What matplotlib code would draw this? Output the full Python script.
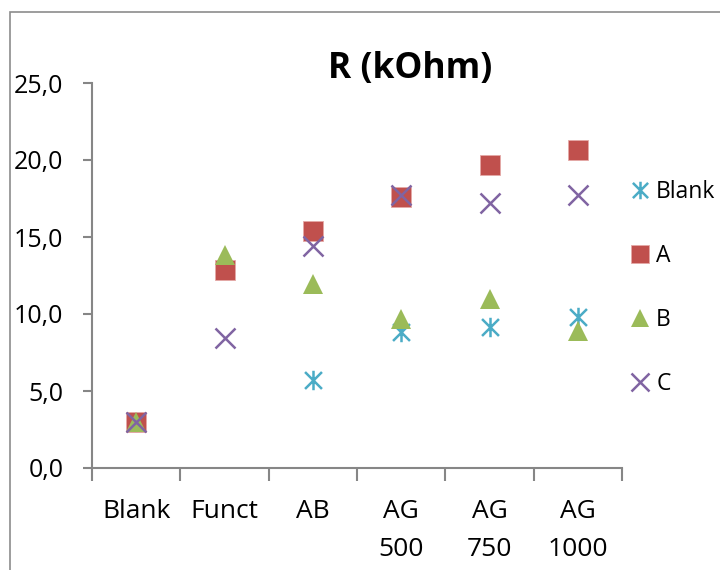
import matplotlib
matplotlib.use("Agg")
import matplotlib.pyplot as plt
import numpy as np
from matplotlib.path import Path
from matplotlib.patches import Rectangle

categories = ["Blank", "Funct", "AB", "AG\n500", "AG\n750", "AG\n1000"]
blank = [3.0, np.nan, 5.7, 8.85, 9.15, 9.8]
a_vals = [3.0, 12.85, 15.4, 17.6, 19.7, 20.65]
b_vals = [3.0, 13.8, 11.95, 9.7, 11.0, 8.9]
c_vals = [3.0, 8.45, 14.4, 17.7, 17.2, 17.7]

plt.rcParams['font.family'] = ['Open Sans', 'DejaVu Sans']

# excel style asterisk: an x with a vertical bar through it
asterisk = Path([(-1, -1), (1, 1), (-1, 1), (1, -1), (0, -1.15), (0, 1.15)],
                [Path.MOVETO, Path.LINETO, Path.MOVETO, Path.LINETO, Path.MOVETO, Path.LINETO])

fig = plt.figure(figsize=(7.2, 5.7), dpi=100)
ax = fig.add_axes([92/720, 102/570, 530/720, 385/570])

# chart area border (cut off at right and bottom)
fig.patches.append(Rectangle((10/720, -0.1), 1.2, 1.1 - 12/570, transform=fig.transFigure,
                             fill=False, edgecolor='#8c8c8c', linewidth=1.2))

x = np.arange(len(categories))
ax.plot(x, blank, linestyle='none', marker=asterisk, markersize=14, markeredgewidth=1.8,
        color='#4BACC6', label='Blank')
ax.plot(x, a_vals, linestyle='none', marker='s', markersize=14, color='#C0504D',
        markeredgecolor='#e4a9a7', markeredgewidth=0.6, label='A')
ax.plot(x, b_vals, linestyle='none', marker='^', markersize=15, color='#9BBB59',
        markeredgewidth=0, label='B')
ax.plot(x, c_vals, linestyle='none', marker='x', markersize=14, markeredgewidth=1.8,
        color='#8064A2', label='C')

ax.set_xlim(-0.5, len(categories) - 0.5)
ax.set_ylim(0, 25)
ax.set_yticks(np.arange(0, 26, 5))
ax.set_yticklabels([f"{v:.1f}".replace('.', ',') for v in np.arange(0, 26, 5)])
ax.set_xticks(x)
ax.set_xticklabels(categories, linespacing=1.72, va='top')
ax.set_xticks(np.arange(-0.5, len(categories), 1), minor=True)

for s in ['top', 'right']:
    ax.spines[s].set_visible(False)
for s in ['left', 'bottom']:
    ax.spines[s].set_color('#868686')
    ax.spines[s].set_linewidth(1.5)

ax.tick_params(axis='y', direction='out', length=6.5, width=1.5, color='#868686',
               labelsize=18, pad=14)
ax.tick_params(axis='x', which='major', length=0, labelsize=19, pad=22)
ax.tick_params(axis='x', which='minor', direction='out', length=9, width=1.5, color='#868686')

fig.text(410/720, 1 - 69/570, "R (kOhm)", fontsize=25.5, fontweight='bold',
         ha='center', va='center')

ax.legend(loc='upper left', bbox_to_anchor=(631/720, 1 - 180/570), bbox_transform=fig.transFigure,
          frameon=False, fontsize=16.5, labelspacing=1.75, handlelength=0.8,
          handletextpad=0.3, borderaxespad=0, borderpad=0, markerscale=0.9)

fig.savefig("out.png", dpi=100)
